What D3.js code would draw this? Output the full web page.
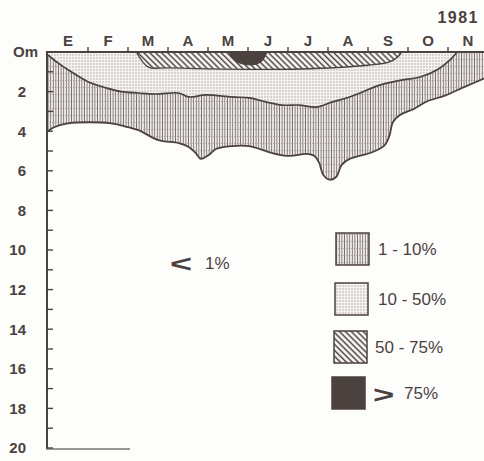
<!DOCTYPE html>
<html><head><meta charset="utf-8">
<script src="https://cdn.jsdelivr.net/npm/d3@7"></script>
<style>html,body{margin:0;padding:0;background:#fdfdfb;}svg{display:block;}</style>
</head><body>
<script>
// ---- data (t = month index from start of January, d = depth in m) ----
const months = ["E","F","M","A","M","J","J","A","S","O","N"];
const depthTicks = [0,2,4,6,8,10,12,14,16,18,20];
const depthLabels = ["Om","2","4","6","8","10","12","14","16","18","20"];
const year = "1981";

// lower limit of the 1-10 % zone
const zone1Bottom = [[0,4.0],[0.15,3.8],[0.5,3.6],[1.58,3.6],[2.0,3.8],[2.26,3.95],[2.76,4.45],[3.27,4.6],[3.52,4.8],[3.69,5.1],[3.82,5.4],[4.02,5.2],[4.2,4.9],[4.6,4.75],[5.03,4.75],[5.6,5.1],[6.03,5.25],[6.46,5.15],[6.66,5.25],[6.78,5.6],[6.88,6.2],[7.04,6.45],[7.21,6.3],[7.34,5.7],[7.54,5.4],[8.12,5.05],[8.42,4.7],[8.54,4.2],[8.62,3.55],[8.79,3.2],[9.17,2.85],[9.47,2.5],[9.92,2.2],[10.43,1.75],[10.95,1.3]];
// lower limit of the 10-50 % zone
const zone2Bottom = [[0,0.15],[0.25,0.55],[0.58,1.0],[1.0,1.5],[1.43,1.8],[1.83,2.0],[2.26,2.07],[2.69,2.12],[3.27,2.07],[3.52,2.27],[3.94,2.17],[4.6,2.27],[5.03,2.32],[5.45,2.52],[5.85,2.68],[6.28,2.68],[6.71,2.78],[7.11,2.52],[7.54,2.27],[7.86,2.02],[8.29,1.67],[8.87,1.41],[9.3,1.26],[9.72,0.91],[10.05,0.4],[10.23,0]];
// lower limit of the 50-75 % zone
const zone3Bottom = [[2.21,0],[2.51,0.76],[3.0,0.8],[6.28,0.86],[8.04,0.66],[8.54,0.5],[8.74,0.25],[8.84,0]];
// lower limit of the > 75 % zone
const zone4Bottom = [[4.52,0],[4.62,0.35],[4.82,0.58],[5.15,0.64],[5.35,0.45],[5.48,0]];

const legendLabels = ["1 - 10%","10 - 50%","50 - 75%","75%"];
const insideLabel = "1%";

// ---- drawing ----
const W = 484, H = 461;
const ink = "#4b423f";
const font = "Liberation Sans, Arial, sans-serif";
const svg = d3.select("body").append("svg").attr("width", W).attr("height", H);
svg.append("rect").attr("width", W).attr("height", H).attr("fill", "#fdfdfb");

const x = d3.scaleLinear().domain([0, 11]).range([48, 488]);
const y = d3.scaleLinear().domain([0, 20]).range([52, 448]);

const defs = svg.append("defs");
// vertical hatch (1-10 %)
const p1 = defs.append("pattern").attr("id","p1").attr("patternUnits","userSpaceOnUse").attr("width",2.6).attr("height",7);
p1.append("rect").attr("width",2.6).attr("height",7).attr("fill","#efece9");
p1.append("line").attr("x1",1.3).attr("x2",1.3).attr("y1",0).attr("y2",7).attr("stroke","#7a716c").attr("stroke-width",0.9);
p1.append("line").attr("x1",0).attr("x2",1.3).attr("y1",3.5).attr("y2",3.5).attr("stroke","#9d9490").attr("stroke-width",0.7);
// stipple (10-50 %)
const p2 = defs.append("pattern").attr("id","p2").attr("patternUnits","userSpaceOnUse").attr("width",3).attr("height",3);
p2.append("rect").attr("width",3).attr("height",3).attr("fill","#f5f4f2");
p2.append("circle").attr("cx",1).attr("cy",1).attr("r",0.65).attr("fill","#a0978f");
// diagonal hatch (50-75 %)
const p3 = defs.append("pattern").attr("id","p3").attr("patternUnits","userSpaceOnUse").attr("width",4.2).attr("height",10).attr("patternTransform","rotate(-45)");
p3.append("rect").attr("width",4.2).attr("height",10).attr("fill","#fbfaf8");
p3.append("line").attr("x1",1.4).attr("x2",1.4).attr("y1",0).attr("y2",10).attr("stroke",ink).attr("stroke-width",1.5);

const curve = d3.curveCatmullRom.alpha(0.5);
const area = d3.area().x(d => x(d[0])).y0(y(0)).y1(d => y(d[1])).curve(curve);
const line = d3.line().x(d => x(d[0])).y(d => y(d[1])).curve(curve);

const g = svg.append("g");
g.append("path").datum(zone1Bottom).attr("d", area).attr("fill","url(#p1)");
g.append("path").datum(zone1Bottom).attr("d", line).attr("fill","none").attr("stroke",ink).attr("stroke-width",1.8);
g.append("path").datum(zone2Bottom).attr("d", area).attr("fill","url(#p2)");
g.append("path").datum(zone2Bottom).attr("d", line).attr("fill","none").attr("stroke",ink).attr("stroke-width",1.7);
g.append("path").datum(zone3Bottom).attr("d", area).attr("fill","url(#p3)");
g.append("path").datum(zone3Bottom).attr("d", line).attr("fill","none").attr("stroke",ink).attr("stroke-width",1.4);
g.append("path").datum(zone4Bottom).attr("d", area).attr("fill",ink).attr("stroke",ink).attr("stroke-width",1);

// top axis
svg.append("line").attr("x1", x(0) - 2).attr("x2", W).attr("y1", y(0)).attr("y2", y(0)).attr("stroke", ink).attr("stroke-width", 2);
svg.selectAll(".mt").data(d3.range(1, 11)).enter().append("line")
  .attr("x1", d => x(d)).attr("x2", d => x(d)).attr("y1", y(0)).attr("y2", y(0) - 5)
  .attr("stroke", ink).attr("stroke-width", 1.4);
svg.selectAll(".ml").data(months).enter().append("text")
  .attr("x", (d, i) => x(i + 0.5)).attr("y", 46).attr("text-anchor", "middle")
  .attr("font-family", font).attr("font-weight", "bold").attr("font-size", 15)
  .attr("fill", ink).text(d => d);

// left axis
svg.append("line").attr("x1", x(0) - 1).attr("x2", x(0) - 1).attr("y1", y(0)).attr("y2", y(20) + 1).attr("stroke", ink).attr("stroke-width", 2);
svg.append("line").attr("x1", x(0) - 2).attr("x2", 130).attr("y1", y(20) + 1).attr("y2", y(20) + 1).attr("stroke", "#7d746f").attr("stroke-width", 1.4);
svg.selectAll(".dt").data(d3.range(1, 21)).enter().append("line")
  .attr("x1", x(0) - 1).attr("x2", x(0) + 5).attr("y1", d => y(d)).attr("y2", d => y(d))
  .attr("stroke", ink).attr("stroke-width", 1.4);
svg.selectAll(".dl").data(depthTicks).enter().append("text")
  .attr("x", (d, i) => i === 0 ? 38 : 26).attr("y", d => y(d)).attr("dy", "0.36em").attr("text-anchor", "end")
  .attr("font-family", font).attr("font-weight", "bold").attr("font-size", 15)
  .attr("fill", ink).text((d, i) => depthLabels[i]);

// year
svg.append("text").attr("x", 479).attr("y", 23).attr("text-anchor", "end")
  .attr("font-family", font).attr("font-weight", "bold").attr("font-size", 16).attr("letter-spacing", 1.5)
  .attr("fill", ink).text(year);

// "< 1%"
svg.append("text").attr("transform", "translate(170,272) scale(1.35,0.85)")
  .attr("font-family", font).attr("font-weight", "bold").attr("font-size", 28)
  .attr("fill", ink).text("<");
svg.append("text").attr("x", 205).attr("y", 269)
  .attr("font-family", font).attr("font-size", 17)
  .attr("fill", ink).text(insideLabel);

// legend
const legFills = ["url(#p1)", "url(#p2)", "url(#p3)", ink];
const legY = [233, 283, 331, 377];
const legX = [336, 335, 334, 332];
const leg = svg.selectAll(".lg").data(legendLabels).enter().append("g");
leg.append("rect").attr("x", (d, i) => legX[i]).attr("y", (d, i) => legY[i]).attr("width", 33).attr("height", 32)
  .attr("fill", (d, i) => legFills[i]).attr("stroke", ink).attr("stroke-width", 1.5);
leg.append("text").attr("x", (d, i) => i === 3 ? 404 : (i === 2 ? 375 : 378)).attr("y", (d, i) => legY[i] + 22)
  .attr("font-family", font).attr("font-size", 17)
  .attr("fill", ink).text(d => d);
svg.append("text").attr("transform", `translate(373,${legY[3] + 26}) scale(1.3,0.85)`)
  .attr("font-family", font).attr("font-weight", "bold").attr("font-size", 28)
  .attr("fill", ink).text(">");
</script>
</body></html>
